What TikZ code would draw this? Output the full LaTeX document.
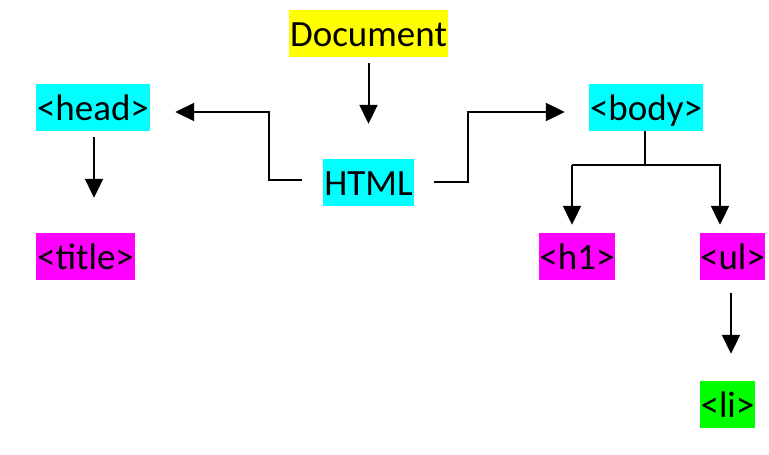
\documentclass[tikz,border=0pt]{standalone}
\usepackage{fontspec}
\setmainfont{Carlito}
\usetikzlibrary{arrows.meta}
\definecolor{cy}{RGB}{0,255,255}
\definecolor{mg}{RGB}{255,0,255}
\definecolor{yl}{RGB}{255,255,0}
\definecolor{gr}{RGB}{0,255,0}
\tikzset{
  box/.style={inner sep=0pt, minimum height=47pt, text height=30pt, text depth=5pt,
    font=\fontsize{37}{42}\selectfont, anchor=center},
  arr/.style={line width=2pt, -{Triangle[length=19pt,width=18pt]}},
  ln/.style={line width=2pt}
}
\begin{document}
\begin{tikzpicture}[x=1pt,y=-1pt]
\useasboundingbox (0,0) rectangle (769,455);
\node[box, fill=yl, minimum width=159pt] (doc) at (368.5,33.5) {Document};
\node[box, fill=cy, minimum width=91pt] (html) at (368.5,182.5) {HTML};
\node[box, fill=cy, minimum width=114pt] (head) at (93,107.5) {<head>};
\node[box, fill=mg, minimum width=99pt] (title) at (85.5,256.5) {<title>};
\node[box, fill=cy, minimum width=114pt] (body) at (646,107.5) {<body>};
\node[box, fill=mg, minimum width=76pt] (h1) at (577,256.5) {<h1>};
\node[box, fill=mg, minimum width=65pt] (ul) at (732.5,256.5) {<ul>};
\node[box, fill=gr, minimum width=55pt] (li) at (727.5,404.5) {<li>};
\coordinate (split) at (645,165);

\draw[arr, shorten <=6pt, shorten >=35pt] (doc) -- (html);
\draw[arr] ([xshift=-21pt,yshift=2.5pt]html.west) -| (269,112) -- ([xshift=25pt,yshift=-4.5pt]head.east);
\draw[arr] ([xshift=20pt,yshift=0.5pt]html.east) -| (468,112) -- ([xshift=-24pt,yshift=-4.5pt]body.west);
\draw[arr, shorten <=6pt, shorten >=35pt] ([xshift=1pt]head.south) -- ([xshift=8.5pt]title.north);
\draw[ln] ([xshift=-1pt]body.south) -- (split);
\draw[arr] (572,165) -- ([xshift=-5pt,yshift=8pt]h1.north);
\draw[arr] (split) -| ([xshift=-12.5pt,yshift=8pt]ul.north);
\draw[ln] (split) -| (572,165);
\draw[arr, shorten <=13pt, shorten >=27pt] ([xshift=-1.5pt]ul.south) -- ([xshift=3.5pt]li.north);
\end{tikzpicture}
\end{document}
